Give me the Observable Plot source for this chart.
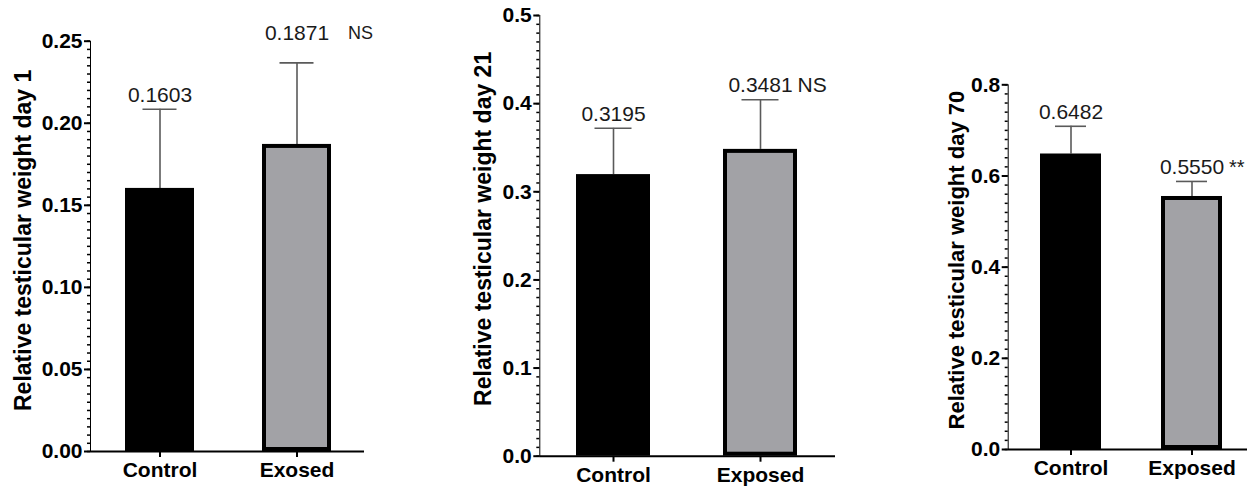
<!DOCTYPE html>
<html>
<head>
<meta charset="utf-8">
<script src="https://cdn.jsdelivr.net/npm/d3@7"></script>
<script src="https://cdn.jsdelivr.net/npm/@observablehq/plot@0.6"></script>
<style>
  html, body { margin: 0; padding: 0; background: #fff; overflow: hidden; }
  #wrap { position: relative; width: 1247px; height: 489px; }
  #wrap svg { position: absolute; top: 0; overflow: visible; }
  #wrap svg [aria-label^="y-axis"] text { font-size: 21px; font-weight: bold; fill: #000; }
  #wrap svg [aria-label^="x-axis"] text { font-size: 21px; font-weight: bold; fill: #000; }
  #wrap svg [aria-label^="y-axis"] line, #wrap svg [aria-label^="y-axis"] path,
  #wrap svg [aria-label^="x-axis"] line, #wrap svg [aria-label^="x-axis"] path { stroke-width: 2px; stroke: #000; }
</style>
</head>
<body>
<div id="wrap"></div>
<script>
// ---- data ----
const day1Groups = ["Control", "Exosed"];
const day1Mean = [0.1603, 0.1871];
const day1Err = [0.0482, 0.0497];
const day1Notes = ["", "NS"];
const day1Ticks = [0, 0.05, 0.10, 0.15, 0.20, 0.25];
const day1Title = "Relative testicular weight day 1";

const day21Groups = ["Control", "Exposed"];
const day21Mean = [0.3195, 0.3481];
const day21Err = [0.0525, 0.0563];
const day21Notes = ["", "NS"];
const day21Ticks = [0, 0.1, 0.2, 0.3, 0.4, 0.5];
const day21Title = "Relative testicular weight day 21";

const day70Groups = ["Control", "Exposed"];
const day70Mean = [0.6482, 0.5550];
const day70Err = [0.0608, 0.0330];
const day70Notes = ["", "**"];
const day70Ticks = [0, 0.2, 0.4, 0.6, 0.8];
const day70Title = "Relative testicular weight day 70";

// ---- drawing ----
const FONT = "'Liberation Sans', Arial, Helvetica, sans-serif";
const ERR = "#5a5a5a";
const GRAY = "#a2a2a6";

function panel(cfg) {
  const data = cfg.groups.map((g, i) => ({
    cat: g, i, mean: cfg.mean[i], top: cfg.mean[i] + cfg.err[i], note: cfg.notes[i]
  }));
  const t = cfg.ticks;
  const minorStep = (t[1] - t[0]) / 10;
  const minor = d3.range(0, Math.round((t[t.length - 1] - t[0]) / minorStep) + 1).map(k => t[0] + k * minorStep);
  const lift = cfg.lift || {};
  const frameW = cfg.width - cfg.ml - cfg.mr;
  const svg = Plot.plot({
    width: cfg.width, height: 489,
    marginLeft: cfg.ml, marginRight: cfg.mr, marginTop: cfg.mt, marginBottom: cfg.mb,
    style: { fontFamily: FONT, color: "#000", background: "transparent", fontSize: "20px" },
    x: { domain: cfg.groups, range: cfg.xRange, paddingInner: 0.5, paddingOuter: 0.25, label: null, tickSize: 6, tickPadding: 5 },
    y: { domain: [t[0], t[t.length - 1]], label: null, ticks: t, tickFormat: d3.format(cfg.fmt), tickSize: 6, tickPadding: 2, line: true },
    marks: [
      Plot.ruleY(minor, { y: d => d, insetLeft: -3, insetRight: frameW, stroke: "#000", strokeWidth: 1.5 }),
      Plot.ruleX(data, { x: "cat", y1: "mean", y2: "top", stroke: ERR, strokeWidth: 1.6 }),
      Plot.tickY(data, { x: "cat", y: "top", stroke: ERR, strokeWidth: 1.6, inset: cfg.capInset }),
      Plot.barY(data.filter(d => d.i === 0), { x: "cat", y: "mean", fill: "#000" }),
      Plot.barY(data.filter(d => d.i === 1), { x: "cat", y: "mean", fill: GRAY, stroke: "#000", strokeWidth: 4, inset: 2 }),
      Plot.text(data.filter(d => !lift[d.cat]), {
        x: "cat", y: "top", text: d => d.mean.toFixed(4),
        dy: -14, fontSize: 21, fill: "#1a1a1a", textAnchor: "middle", lineAnchor: "middle"
      }),
      Plot.text(data.filter(d => !!lift[d.cat]), {
        x: "cat", y: "top", text: d => d.mean.toFixed(4),
        dy: -30, fontSize: 21, fill: "#1a1a1a", textAnchor: "middle", lineAnchor: "middle"
      }),
      Plot.text(data.filter(d => d.note), {
        x: "cat", y: "top", text: "note",
        dx: cfg.noteDx, dy: cfg.noteDy, fontSize: cfg.noteSize, fill: "#1a1a1a", textAnchor: "start", lineAnchor: "middle"
      }),
      Plot.ruleY([0], { stroke: "#000", strokeWidth: 2 }),
      Plot.text([cfg.title], {
        text: d => d, frameAnchor: "left", rotate: -90, dx: cfg.tdx, dy: cfg.tdy,
        fontSize: cfg.titleSize, fontWeight: "bold", fill: "#000", textAnchor: "middle", lineAnchor: "middle"
      })
    ]
  });
  svg.style.left = cfg.left + "px";
  document.getElementById("wrap").appendChild(svg);
}

panel({
  groups: day1Groups, mean: day1Mean, err: day1Err, notes: day1Notes, ticks: day1Ticks, title: day1Title,
  left: 0, width: 420, ml: 90, mr: 56, mt: 40.7, mb: 38, xRange: [90.5, 364.5], capInset: 17.5,
  fmt: ".2f", tdx: -67, tdy: -6, titleSize: 23, noteDx: 51, noteDy: -30, noteSize: 18, lift: { Exosed: true }
});
panel({
  groups: day21Groups, mean: day21Mean, err: day21Err, notes: day21Notes, ticks: day21Ticks, title: day21Title,
  left: 420, width: 440, ml: 119.3, mr: 25, mt: 15, mb: 33.3, xRange: [119.5, 413.5], capInset: 18.5,
  fmt: ".1f", tdx: -56, tdy: -7, titleSize: 23, noteDx: 37, noteDy: -14, noteSize: 21
});
panel({
  groups: day70Groups, mean: day70Mean, err: day70Err, notes: day70Notes, ticks: day70Ticks, title: day70Title,
  left: 860, width: 387, ml: 147.7, mr: 0, mt: 84.3, mb: 40, xRange: [149.5, 391.5], capInset: 15,
  fmt: ".1f", tdx: -51, tdy: -7, titleSize: 22, noteDx: 37, noteDy: -14, noteSize: 20
});
</script>
</body>
</html>
